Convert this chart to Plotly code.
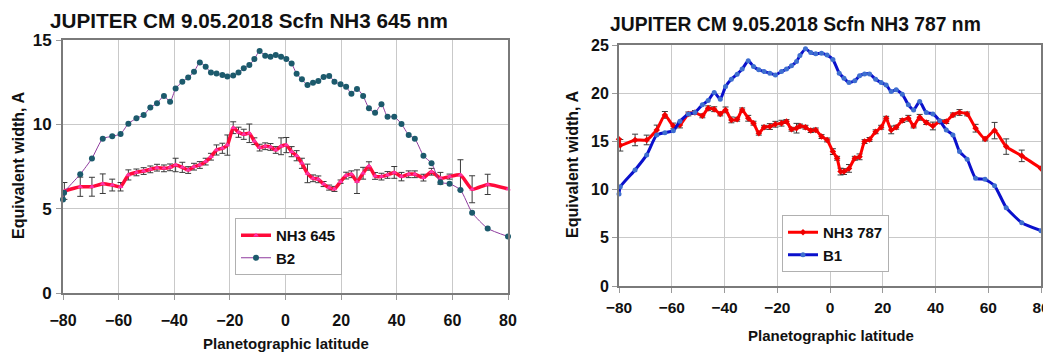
import plotly.graph_objects as go

# ---------------- Left chart: NH3 645 nm ----------------
lat_nh3_645 = [-79.5, -73.8, -69.6, -65.7, -62.3, -59.3, -56.5, -53.6, -51.0, -48.6, -46.2, -43.7, -41.5,
               -39.5, -37.1, -35.0, -32.9, -30.8, -28.7, -26.8, -24.8, -22.7, -20.9, -18.8, -16.9, -15.0,
               -13.0, -11.2, -9.3, -7.3, -5.4, -3.5, -1.6, 0.3, 2.2, 4.0, 5.9, 7.9, 9.9, 11.8, 13.7, 15.7,
               17.6, 19.8, 21.8, 23.7, 25.7, 27.9, 30.0, 32.2, 34.5, 36.7, 39.1, 41.7, 44.3, 46.5, 49.6,
               52.5, 55.7, 59.0, 62.9, 67.1, 72.7, 80.0]
nh3_645 = [6.05, 6.3, 6.3, 6.48, 6.4, 6.3, 7.0, 7.15, 7.23, 7.33, 7.43, 7.39, 7.45, 7.59, 7.45, 7.29,
           7.49, 7.59, 7.79, 8.08, 8.48, 8.58, 8.77, 9.8, 9.53, 9.41, 9.47, 9.0, 8.62, 8.7, 8.66, 8.48,
           8.7, 8.77, 8.38, 8.14, 7.69, 7.09, 6.8, 6.74, 6.46, 6.25, 6.17, 6.6, 6.96, 7.04, 6.6, 7.1,
           7.53, 6.94, 6.9, 7.0, 7.15, 6.9, 7.04, 7.04, 6.84, 7.19, 6.8, 6.9, 7.0, 6.15, 6.44, 6.17]
err_nh3_645 = [0.5, 0.57, 0.56, 0.58, 0.35, 0.25, 0.3, 0.2, 0.2, 0.2, 0.2, 0.2, 0.2, 0.4, 0.3, 0.2,
               0.2, 0.2, 0.2, 0.2, 0.3, 0.3, 0.6, 0.35, 0.3, 0.3, 0.55, 0.2, 0.2, 0.2, 0.2, 0.2, 0.5,
               0.45, 0.3, 0.3, 0.3, 0.55, 0.2, 0.2, 0.15, 0.15, 0.15, 0.1, 0.2, 0.2, 0.7, 0.35, 0.25,
               0.2, 0.2, 0.2, 0.35, 0.25, 0.2, 0.2, 0.2, 0.2, 0.35, 0.15, 0.9, 0.8, 0.6, 0.0]

lat_b2 = [-80.0, -79.6, -73.8, -69.6, -65.7, -62.3, -59.3, -56.5, -53.6, -51.0, -48.6, -46.2, -43.7,
          -41.5, -39.5, -37.1, -35.0, -32.9, -30.8, -28.7, -26.8, -24.8, -22.7, -20.9, -18.8, -16.9,
          -15.0, -13.0, -11.2, -9.3, -7.3, -5.4, -3.5, -1.6, 0.3, 2.2, 4.0, 5.9, 7.9, 9.9, 11.8, 13.7,
          15.7, 17.6, 19.8, 21.8, 23.7, 25.7, 27.9, 30.0, 32.2, 34.5, 36.7, 39.1, 41.7, 44.3, 46.5,
          49.6, 52.5, 55.7, 59.0, 62.9, 67.1, 72.7, 80.0]
b2 = [5.55, 5.95, 7.04, 7.98, 9.15, 9.29, 9.43, 10.04, 10.36, 10.55, 11.0, 11.25, 11.68, 11.34, 12.13,
      12.53, 12.77, 13.12, 13.66, 13.42, 13.08, 13.02, 12.92, 12.83, 12.89, 13.08, 13.32, 13.52, 13.87,
      14.35, 14.07, 14.01, 14.11, 14.01, 13.87, 13.6, 13.0, 12.67, 12.33, 12.47, 12.57, 12.8, 12.87,
      12.53, 12.37, 12.23, 11.82, 12.1, 11.68, 10.95, 10.69, 11.19, 10.45, 10.45, 10.02, 9.37, 9.15,
      8.14, 7.69, 6.56, 6.48, 6.11, 4.76, 3.83, 3.35]

# ---------------- Right chart: NH3 787 nm ----------------
lat_nh3_787 = [-80.0, -79.5, -73.9, -69.5, -65.7, -62.6, -59.4, -56.9, -53.7, -51.2, -48.4, -46.2,
               -43.9, -41.6, -39.6, -37.4, -35.2, -33.3, -31.0, -29.0, -27.0, -25.0, -22.8, -20.7,
               -18.4, -16.5, -14.6, -12.7, -11.4, -9.3, -7.3, -5.4, -3.2, -1.1, 1.1, 2.7, 4.0, 5.3,
               7.2, 9.4, 11.2, 13.1, 15.0, 17.3, 19.4, 21.3, 23.2, 25.1, 27.4, 29.7, 31.7, 34.0, 36.5,
               39.0, 41.6, 44.1, 46.6, 49.1, 52.0, 55.2, 58.8, 62.4, 66.8, 72.7, 80.0]
nh3_787 = [15.22, 14.6, 15.15, 15.15, 16.19, 17.75, 16.6, 16.7, 17.85, 18.0, 17.65, 18.44, 18.34,
           17.85, 18.27, 17.23, 17.3, 18.27, 17.4, 16.89, 15.85, 16.47, 16.54, 16.78, 16.89, 17.06,
           16.26, 16.37, 16.6, 16.47, 16.12, 16.19, 15.5, 15.15, 13.94, 13.25, 11.87, 11.87, 12.2,
           13.25, 13.4, 14.98, 15.2, 16.0, 16.47, 17.4, 16.19, 16.47, 17.16, 17.4, 16.6, 17.5, 16.95,
           16.6, 17.06, 17.06, 17.75, 18.0, 17.85, 16.37, 15.26, 16.12, 14.46, 13.5, 12.2]
err_nh3_787 = [0.0, 0.6, 0.6, 0.5, 0.5, 0.35, 0.3, 0.3, 0.2, 0.2, 0.2, 0.25, 0.25, 0.2, 0.3, 0.3,
               0.2, 0.2, 0.3, 0.2, 0.2, 0.2, 0.3, 0.3, 0.3, 0.2, 0.2, 0.5, 0.2, 0.2, 0.2, 0.2, 0.2,
               0.2, 0.3, 0.2, 0.35, 0.3, 0.4, 0.2, 0.3, 0.2, 0.2, 0.2, 0.2, 0.2, 0.4, 0.2, 0.2, 0.3,
               0.2, 0.3, 0.2, 0.4, 0.2, 0.2, 0.2, 0.3, 0.2, 0.4, 0.2, 0.85, 0.8, 0.6, 0.0]

lat_b1 = [-80.0, -79.5, -73.9, -69.5, -65.7, -62.6, -59.4, -56.9, -53.7, -51.2, -48.4, -46.2, -43.9,
          -41.6, -39.6, -37.4, -35.2, -33.3, -31.0, -29.0, -27.0, -25.0, -22.8, -20.7, -18.4, -16.5,
          -14.6, -12.7, -11.4, -9.3, -7.3, -5.4, -3.2, -1.1, 1.1, 3.5, 5.3, 7.2, 9.4, 11.2, 13.1,
          15.0, 17.3, 19.4, 21.3, 23.2, 25.1, 27.4, 29.7, 31.7, 34.0, 36.5, 39.0, 41.6, 44.1, 46.6,
          49.1, 52.0, 55.2, 58.8, 62.4, 66.8, 72.7, 80.0]
b1 = [9.55, 10.3, 12.04, 13.6, 15.67, 15.9, 16.1, 17.1, 17.85, 18.0, 18.8, 19.24, 20.07, 19.38, 20.7,
      21.45, 21.97, 22.5, 23.36, 22.77, 22.42, 22.25, 22.08, 21.9, 22.25, 22.5, 22.84, 23.29, 23.9,
      24.6, 24.22, 24.08, 24.15, 23.95, 23.5, 22.08, 21.56, 21.1, 21.3, 21.8, 22.0, 22.0, 21.45, 21.1,
      20.86, 20.17, 20.35, 19.9, 18.8, 18.27, 19.13, 17.99, 17.85, 17.13, 16.19, 15.67, 13.94, 13.15,
      11.18, 11.07, 10.4, 8.13, 6.57, 5.74]

x_ticks = [-80, -60, -40, -20, 0, 20, 40, 60, 80]
titles = ["JUPITER CM 9.05.2018 Scfn NH3 645 nm", "JUPITER CM 9.05.2018 Scfn NH3 787 nm"]
x_title = "Planetographic latitude"
y_title = "Equivalent width, A"

# The page body has an 8px margin; the figure is sized so it fills the 1051x355 window.
OFF = 8
W, H = 1051 - OFF, 355 - OFF
FONT = "Liberation Sans, Arial, sans-serif"


def px_x(p):
    return (p - OFF) / W


def px_y(p):
    return 1 - (p - OFF) / H


fig = go.Figure()

ebar = dict(type="data", visible=True, color="#3a3a3a", thickness=1, width=3)

fig.add_trace(go.Scatter(
    x=lat_nh3_645, y=nh3_645, name="NH3 645", mode="lines+markers",
    line=dict(color="#ff0a3a", width=3.5, shape="spline", smoothing=0.5),
    marker=dict(symbol="triangle-up", size=5, color="#ff33aa"),
    error_y=dict(array=err_nh3_645, **ebar),
    xaxis="x", yaxis="y", legend="legend", cliponaxis=False))
fig.add_trace(go.Scatter(
    x=lat_b2, y=b2, name="B2", mode="lines+markers",
    line=dict(color="#8e3a9e", width=1, shape="spline", smoothing=0.6),
    marker=dict(symbol="circle", size=6, color="#1c5a6c"),
    xaxis="x", yaxis="y", legend="legend", cliponaxis=False))

fig.add_trace(go.Scatter(
    x=lat_nh3_787, y=nh3_787, name="NH3 787", mode="lines+markers",
    line=dict(color="#ff0000", width=3, shape="spline", smoothing=0.5),
    marker=dict(symbol="diamond", size=5, color="#ee0000"),
    error_y=dict(array=err_nh3_787, **ebar),
    xaxis="x2", yaxis="y2", legend="legend2", cliponaxis=False))
fig.add_trace(go.Scatter(
    x=lat_b1, y=b1, name="B1", mode="lines+markers",
    line=dict(color="#0a10cc", width=3, shape="spline", smoothing=0.5),
    marker=dict(symbol="circle", size=5, color="#3f6fd0"),
    xaxis="x2", yaxis="y2", legend="legend2", cliponaxis=False))

axis_common = dict(
    showgrid=True, gridcolor="#c9c9c9", gridwidth=1,
    showline=True, mirror=True, linecolor="#7a7a7a", linewidth=2,
    ticks="outside", ticklen=5, tickcolor="#9a9a9a", zeroline=False,
    automargin=False, ticklabeloverflow="allow",
    tickfont=dict(family=FONT, size=16, color="#111111", weight="bold"),
)

legend_common = dict(xanchor="left", yanchor="top",
                     bgcolor="white", bordercolor="#b0b0b0", borderwidth=1,
                     font=dict(family=FONT, size=15, color="#111111", weight="bold"),
                     tracegroupgap=0, itemwidth=30)

fig.update_layout(
    width=W, height=H,
    margin=dict(l=0, r=0, t=0, b=0, pad=0, autoexpand=False),
    paper_bgcolor="white", plot_bgcolor="white",
    xaxis=dict(domain=[px_x(63), px_x(508)], range=[-80, 80], tickvals=x_ticks,
               anchor="y", ticklabelstandoff=7, **axis_common),
    yaxis=dict(domain=[px_y(293), px_y(40)], range=[0, 15], tickvals=[0, 5, 10, 15],
               anchor="x", ticklabelstandoff=1,
               **{**axis_common, "tickfont": dict(family=FONT, size=17, color="#111111", weight="bold")}),
    xaxis2=dict(domain=[px_x(619), px_x(1041)], range=[-80, 80], tickvals=x_ticks,
                anchor="y2", ticklabelstandoff=1,
                **{**axis_common, "tickfont": dict(family=FONT, size=15.5, color="#111111", weight="bold")}),
    yaxis2=dict(domain=[px_y(286), px_y(45)], range=[0, 25], tickvals=[0, 5, 10, 15, 20, 25],
                anchor="x2", ticklabelstandoff=0, **axis_common),
    legend=dict(x=px_x(235), y=px_y(218), **legend_common),
    legend2=dict(x=px_x(782), y=px_y(215), **legend_common),
    showlegend=True,
)

ann = []
ann.append(dict(text=titles[0], x=px_x(249), y=px_y(21), xref="paper", yref="paper",
                showarrow=False, xanchor="center", yanchor="middle",
                font=dict(family=FONT, size=20.7, color="#111111", weight="bold")))
ann.append(dict(text=titles[1], x=px_x(795), y=px_y(24), xref="paper", yref="paper",
                showarrow=False, xanchor="center", yanchor="middle",
                font=dict(family=FONT, size=19.3, color="#111111", weight="bold")))
ann.append(dict(text=x_title, x=px_x(286), y=px_y(343), xref="paper", yref="paper",
                showarrow=False, xanchor="center", yanchor="middle",
                font=dict(family=FONT, size=15, color="#111111", weight="bold")))
ann.append(dict(text=x_title, x=px_x(831), y=px_y(335), xref="paper", yref="paper",
                showarrow=False, xanchor="center", yanchor="middle",
                font=dict(family=FONT, size=15, color="#111111", weight="bold")))
ann.append(dict(text=y_title, x=px_x(18), y=px_y(166), xref="paper", yref="paper",
                showarrow=False, xanchor="center", yanchor="middle", textangle=-90,
                font=dict(family=FONT, size=16, color="#111111", weight="bold")))
ann.append(dict(text=y_title, x=px_x(573), y=px_y(165), xref="paper", yref="paper",
                showarrow=False, xanchor="center", yanchor="middle", textangle=-90,
                font=dict(family=FONT, size=16, color="#111111", weight="bold")))
fig.update_layout(annotations=ann)

fig.write_html("out.html")
